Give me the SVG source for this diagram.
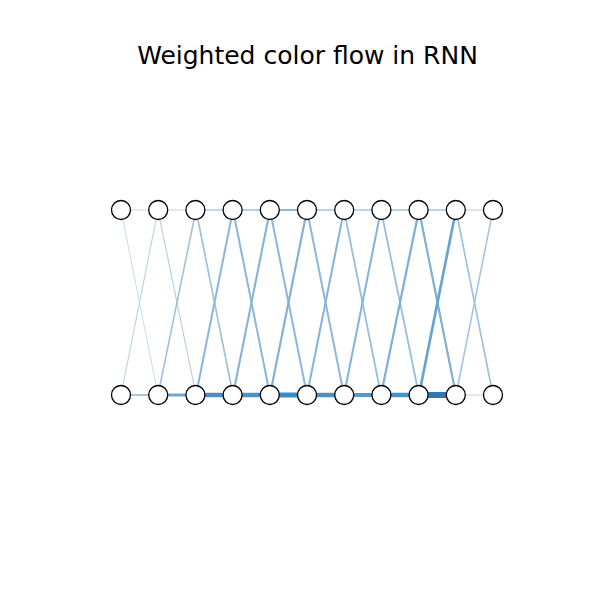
<svg xmlns="http://www.w3.org/2000/svg" width="600" height="600" viewBox="0 0 600 600">
<style>
.n{fill:#fff;stroke:#000;stroke-width:1.3}
.e{fill:none;stroke-linecap:butt}
.t{font-family:"DejaVu Sans",sans-serif;font-size:25px;fill:#000}
</style>
<rect width="600" height="600" fill="#fff"/>
<text class="t" x="307.5" y="64" text-anchor="middle">Weighted color flow in RNN</text>
<g id="connectors" class="e">
<line x1="121" y1="210" x2="158" y2="210" stroke="#c6d9ea" stroke-width="1"/>
<line x1="158" y1="210" x2="196" y2="210" stroke="#bcd3e7" stroke-width="1"/>
<line x1="196" y1="210" x2="233" y2="210" stroke="#afcbe3" stroke-width="1.3"/>
<line x1="233" y1="210" x2="270" y2="210" stroke="#9dc0de" stroke-width="1.6"/>
<line x1="270" y1="210" x2="307" y2="210" stroke="#92b9da" stroke-width="1.8"/>
<line x1="307" y1="210" x2="344" y2="210" stroke="#a5c5e0" stroke-width="1.5"/>
<line x1="344" y1="210" x2="381" y2="210" stroke="#a9c8e1" stroke-width="1.4"/>
<line x1="381" y1="210" x2="419" y2="210" stroke="#a0c2de" stroke-width="1.6"/>
<line x1="419" y1="210" x2="456" y2="210" stroke="#a9c8e1" stroke-width="1.5"/>
<line x1="456" y1="210" x2="493" y2="210" stroke="#b6d0e6" stroke-width="1.2"/>
<line x1="121" y1="395" x2="158" y2="395" stroke="#a7c6e0" stroke-width="2"/>
<line x1="158" y1="395" x2="196" y2="395" stroke="#6fa6d0" stroke-width="3.2"/>
<line x1="196" y1="395" x2="233" y2="395" stroke="#4a90c6" stroke-width="4.3"/>
<line x1="233" y1="395" x2="270" y2="395" stroke="#4d92c7" stroke-width="4.3"/>
<line x1="270" y1="395" x2="307" y2="395" stroke="#3f89c3" stroke-width="4.8"/>
<line x1="307" y1="395" x2="344" y2="395" stroke="#4d92c7" stroke-width="4.3"/>
<line x1="344" y1="395" x2="381" y2="395" stroke="#5598ca" stroke-width="4"/>
<line x1="381" y1="395" x2="419" y2="395" stroke="#4a90c6" stroke-width="4.5"/>
<line x1="419" y1="395" x2="456" y2="395" stroke="#2b7bbb" stroke-width="5.8"/>
<line x1="456" y1="395" x2="493" y2="395" stroke="#bcd3e7" stroke-width="1"/>
<line x1="121" y1="210" x2="158" y2="395" stroke="#cadcec" stroke-width="1"/>
<line x1="158" y1="210" x2="121" y2="395" stroke="#b9d2e7" stroke-width="1.1"/>
<line x1="158" y1="210" x2="196" y2="395" stroke="#b6d0e6" stroke-width="1.2"/>
<line x1="196" y1="210" x2="158" y2="395" stroke="#9fc2df" stroke-width="1.6"/>
<line x1="196" y1="210" x2="233" y2="395" stroke="#9fc2df" stroke-width="1.7"/>
<line x1="233" y1="210" x2="196" y2="395" stroke="#8ab6da" stroke-width="2"/>
<line x1="233" y1="210" x2="270" y2="395" stroke="#8ab6da" stroke-width="2"/>
<line x1="270" y1="210" x2="233" y2="395" stroke="#86b3d8" stroke-width="2.1"/>
<line x1="270" y1="210" x2="307" y2="395" stroke="#8db7da" stroke-width="2"/>
<line x1="307" y1="210" x2="270" y2="395" stroke="#80b0d6" stroke-width="2.1"/>
<line x1="307" y1="210" x2="344" y2="395" stroke="#8db7da" stroke-width="2"/>
<line x1="344" y1="210" x2="307" y2="395" stroke="#86b3d8" stroke-width="2"/>
<line x1="344" y1="210" x2="381" y2="395" stroke="#98bedd" stroke-width="1.8"/>
<line x1="381" y1="210" x2="344" y2="395" stroke="#86b3d8" stroke-width="2"/>
<line x1="381" y1="210" x2="419" y2="395" stroke="#98bedd" stroke-width="1.8"/>
<line x1="419" y1="210" x2="381" y2="395" stroke="#7eafd5" stroke-width="2.2"/>
<line x1="419" y1="210" x2="456" y2="395" stroke="#80b0d6" stroke-width="2.2"/>
<line x1="456" y1="210" x2="419" y2="395" stroke="#6aa3cf" stroke-width="2.7"/>
<line x1="456" y1="210" x2="493" y2="395" stroke="#9fc2df" stroke-width="1.7"/>
<line x1="493" y1="210" x2="456" y2="395" stroke="#a5c5e0" stroke-width="1.6"/>
</g>
<g id="t0"><circle class="n" cx="121" cy="210" r="9.5"/></g>
<g id="t1"><circle class="n" cx="158.2" cy="210" r="9.5"/></g>
<g id="t2"><circle class="n" cx="195.4" cy="210" r="9.5"/></g>
<g id="t3"><circle class="n" cx="232.6" cy="210" r="9.5"/></g>
<g id="t4"><circle class="n" cx="269.8" cy="210" r="9.5"/></g>
<g id="t5"><circle class="n" cx="307" cy="210" r="9.5"/></g>
<g id="t6"><circle class="n" cx="344.2" cy="210" r="9.5"/></g>
<g id="t7"><circle class="n" cx="381.4" cy="210" r="9.5"/></g>
<g id="t8"><circle class="n" cx="418.6" cy="210" r="9.5"/></g>
<g id="t9"><circle class="n" cx="455.8" cy="210" r="9.5"/></g>
<g id="t10"><circle class="n" cx="493" cy="210" r="9.5"/></g>
<g id="b0"><circle class="n" cx="121" cy="395" r="9.5"/></g>
<g id="b1"><circle class="n" cx="158.2" cy="395" r="9.5"/></g>
<g id="b2"><circle class="n" cx="195.4" cy="395" r="9.5"/></g>
<g id="b3"><circle class="n" cx="232.6" cy="395" r="9.5"/></g>
<g id="b4"><circle class="n" cx="269.8" cy="395" r="9.5"/></g>
<g id="b5"><circle class="n" cx="307" cy="395" r="9.5"/></g>
<g id="b6"><circle class="n" cx="344.2" cy="395" r="9.5"/></g>
<g id="b7"><circle class="n" cx="381.4" cy="395" r="9.5"/></g>
<g id="b8"><circle class="n" cx="418.6" cy="395" r="9.5"/></g>
<g id="b9"><circle class="n" cx="455.8" cy="395" r="9.5"/></g>
<g id="b10"><circle class="n" cx="493" cy="395" r="9.5"/></g>
</svg>
